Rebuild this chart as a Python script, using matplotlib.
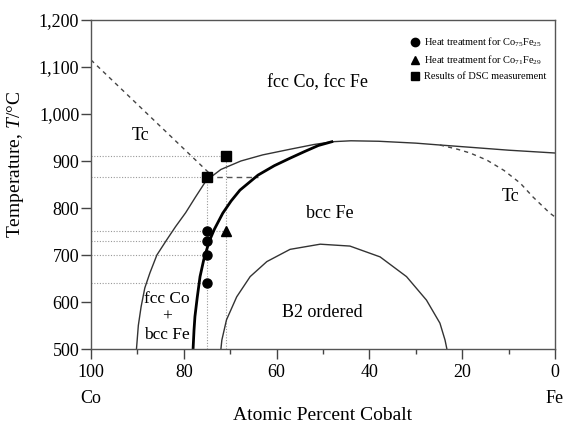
import numpy as np
import matplotlib
matplotlib.use("Agg")
import matplotlib.pyplot as plt
from matplotlib.lines import Line2D
from matplotlib.ticker import FixedLocator

plt.rcParams['font.family'] = ['Liberation Serif', 'DejaVu Serif']
plt.rcParams['mathtext.fontset'] = 'custom'
plt.rcParams['mathtext.rm'] = 'Liberation Serif'
plt.rcParams['mathtext.it'] = 'Liberation Serif:italic'

# phase boundaries (at.% Co, temperature in C)
outer_co = [90.2, 89.8, 89.2, 88.4, 87.3, 85.8, 83.7, 81.8, 79.6, 77.5, 75.2, 72.0, 67.7, 63.0, 57.1, 52.0, 48.0]
outer_t = [500, 550, 590, 630, 662, 700, 732, 760, 790, 823, 858, 882, 900, 913, 925, 935, 941]

top_co = [48.0, 44.0, 38.0, 30.0, 24.8, 18.0, 10.0, 0.0]
top_t = [941, 943, 942, 938, 934, 929, 923, 917]

thick_co = [78.0, 77.8, 77.6, 77.1, 76.5, 75.7, 74.8, 74.4, 73.4, 71.6, 69.8, 67.9, 64.0, 60.5, 57.1, 54.0, 51.0, 48.1]
thick_t = [500, 540, 569, 610, 654, 690, 720, 732, 755, 789, 815, 838, 870, 890, 906, 920, 933, 941]

tc_left_co = [100, 74.5]
tc_left_t = [1115, 874]

tc_right_co = [24.8, 21.0, 18.3, 14.7, 11.0, 7.5, 4.7, 1.1, 0.0]
tc_right_t = [934, 925, 917, 902, 880, 853, 823, 789, 781]

b2_co = [72.0, 71.8, 70.8, 68.6, 65.7, 62.1, 57.1, 50.6, 44.2, 37.7, 32.0, 27.7, 24.8, 23.7, 23.3]
b2_t = [500, 519, 562, 611, 654, 686, 712, 723, 719, 696, 654, 604, 555, 519, 500]

# experimental points
circle_co = [75, 75, 75, 75]
circle_t = [750, 730, 700, 640]
tri_co = [71]
tri_t = [750]
square_co = [75, 71]
square_t = [865, 910]

yticks = [500, 600, 700, 800, 900, 1000, 1100, 1200]
ytick_labels = ['500', '600', '700', '800', '900', '1,000', '1,100', '1,200']
xticks = [100, 80, 60, 40, 20, 0]
xminor = [90, 70, 50, 30, 10]

fig = plt.figure(figsize=(5.66, 4.23), dpi=100)
ax = fig.add_axes([91/566, 74/423, 464/566, 329/423])

guide = dict(color='#999999', lw=0.8, ls=(0, (1, 1.5)))
# horizontal guides from the T axis
for co, t in zip(circle_co, circle_t):
    end = 71 if t == 750 else co
    ax.plot([100, end], [t, t], **guide)
ax.plot([100, 75], [865, 865], **guide)
ax.plot([100, 71], [910, 910], **guide)
# vertical guides
ax.plot([75, 75], [500, 865], **guide)
ax.plot([71, 71], [500, 910], **guide)
ax.plot([75, 64], [865, 865], color='#555555', lw=1.0, ls=(0, (4, 3)))

ax.plot(outer_co, outer_t, color='#333333', lw=1.0)
ax.plot(top_co, top_t, color='#333333', lw=1.0)
ax.plot(thick_co, thick_t, color='black', lw=2.0)
ax.plot(b2_co, b2_t, color='#333333', lw=1.0)
ax.plot(tc_left_co, tc_left_t, color='#444444', lw=1.0, ls=(0, (3, 3)))
ax.plot(tc_right_co, tc_right_t, color='#444444', lw=1.0, ls=(0, (3, 3)))

ax.plot(circle_co, circle_t, 'o', color='black', ms=6.5)
ax.plot(tri_co, tri_t, '^', color='black', ms=6.5)
ax.plot(square_co, square_t, 's', color='black', ms=6.5)

ax.set_xlim(100, 0)
ax.set_ylim(500, 1200)
ax.set_yticks(yticks)
ax.set_yticklabels(ytick_labels)
ax.set_xticks(xticks)
ax.xaxis.set_minor_locator(FixedLocator(xminor))
ax.tick_params(axis='both', which='major', direction='out', length=7, width=1, labelsize=13, color='#444444')
ax.tick_params(axis='y', pad=1.5)
ax.tick_params(axis='x', pad=4)
ax.tick_params(axis='x', which='minor', direction='out', length=3.5, width=1, color='#444444')
for s in ax.spines.values():
    s.set_color('#555555')
    s.set_linewidth(1.0)

ax.text(100, -0.149, 'Co', transform=ax.get_xaxis_transform(), ha='center', va='center', fontsize=13)
ax.text(0, -0.149, 'Fe', transform=ax.get_xaxis_transform(), ha='center', va='center', fontsize=13)
ax.set_xlabel('Atomic Percent Cobalt', fontsize=14)
ax.xaxis.set_label_coords(0.5, -0.176)
ax.set_ylabel('Temperature, $\\it{T}$/\u00b0C', fontsize=14)
ax.yaxis.set_label_coords(-0.14, 0.56)

ax.text(51.1, 1066, 'fcc Co, fcc Fe', ha='center', va='center', fontsize=13)
ax.text(89.4, 955, 'Tc', ha='center', va='center', fontsize=13)
ax.text(9.5, 825, 'Tc', ha='center', va='center', fontsize=13)
ax.text(48.5, 789, 'bcc Fe', ha='center', va='center', fontsize=13)
ax.text(50.2, 577, 'B2 ordered', ha='center', va='center', fontsize=13)
ax.text(83.6, 568, 'fcc Co\n+\nbcc Fe', ha='center', va='center', fontsize=12.5, linespacing=1.15)

handles = [
    Line2D([], [], marker='o', color='black', ls='none', ms=6),
    Line2D([], [], marker='^', color='black', ls='none', ms=6),
    Line2D([], [], marker='s', color='black', ls='none', ms=6),
]
labels = ['Heat treatment for Co$_{75}$Fe$_{25}$',
          'Heat treatment for Co$_{71}$Fe$_{29}$',
          'Results of DSC measurement']
ax.legend(handles, labels, loc='upper right', bbox_to_anchor=(0.993, 0.968), frameon=False,
          fontsize=7.5, handlelength=0.8, handletextpad=0.5, labelspacing=0.45, borderpad=0)

fig.savefig('out.png', dpi=100)
